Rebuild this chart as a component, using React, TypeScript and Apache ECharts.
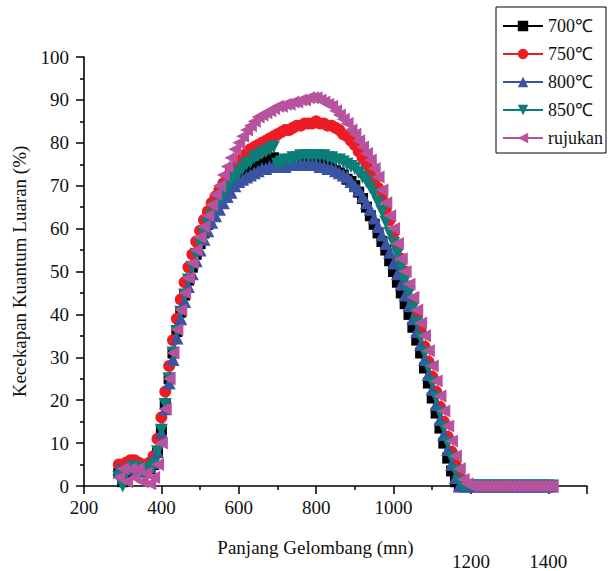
import React, { useEffect, useRef } from "react";
import * as echarts from "echarts";

const wavelengths = [
  290, 300, 310, 320, 330, 340, 350, 360, 370, 380, 390,
  400, 410, 420, 430, 440, 450, 460, 470, 480, 490,
  500, 510, 520, 530, 540, 550, 560, 570, 580, 590,
  600, 610, 620, 630, 640, 650, 660, 670, 680, 690,
  700, 710, 720, 730, 740, 750, 760, 770, 780, 790,
  800, 810, 820, 830, 840, 850, 860, 870, 880, 890,
  900, 910, 920, 930, 940, 950, 960, 970, 980, 990,
  1000, 1010, 1020, 1030, 1040, 1050, 1060, 1070, 1080, 1090,
  1100, 1110, 1120, 1130, 1140, 1150, 1160, 1170, 1180, 1190,
  1200, 1210, 1220, 1230, 1240, 1250, 1260, 1270, 1280, 1290,
  1300, 1310, 1320, 1330, 1340, 1350, 1360, 1370, 1380, 1390,
  1400, 1410,
];

const s700 = [
  3, 1, 3, 4, 4, 3.5, 3.5, 3.5, 4, 5, 8,
  13, 19, 25, 31, 36, 40.5, 44.5, 48, 51, 54,
  56.5, 59, 61, 63, 65, 66.5, 68, 69.5, 70.5, 71,
  71.5, 72.5, 73, 73.5, 74, 74.5, 75, 75.5, 76, 76.5,
  75, 75, 75, 75, 75, 75, 75.5, 75.5, 75.5, 75.5,
  75.5, 75, 75, 74.5, 74, 73.5, 73, 72.5, 71.5, 71,
  70, 68.5, 67, 65, 63, 61, 59, 57, 55, 52.5,
  50, 47.5, 45, 42.5, 40, 37, 34, 31, 27.5, 24,
  20.5, 17, 13.5, 10, 6.5, 3.5, 1, 0, 0, 0,
  0, 0, 0, 0, 0, 0, 0, 0, 0, 0,
  0, 0, 0, 0, 0, 0, 0, 0, 0, 0,
  0, 0,
];

const s750 = [
  5, 5, 5.5, 6, 6, 5.5, 5, 5, 5.5, 7, 11,
  16, 22, 28, 34, 39, 43.5, 47.5, 51, 54, 57,
  59.5, 62, 64, 66, 67.5, 69, 70.5, 72, 73.5, 74.5,
  75.5, 76.5, 77.5, 78.5, 79, 79.5, 80, 80.5, 81, 81.5,
  82, 82.5, 83, 83, 83.5, 84, 84, 84.5, 84.5, 84.5,
  85, 84.5, 84.5, 84, 84, 83.5, 83, 82, 81.5, 80.5,
  79.5, 78, 76.5, 75, 73.5, 71.5, 69.5, 67, 64.5, 62,
  59, 56, 53, 50, 46.5, 43, 39.5, 36, 32.5, 29,
  25.5, 22, 18.5, 15, 11.5, 8, 5, 2, 0, 0,
  0, 0, 0, 0, 0, 0, 0, 0, 0, 0,
  0, 0, 0, 0, 0, 0, 0, 0, 0, 0,
  0, 0,
];

const s800 = [
  4, 3, 4, 4.5, 4, 3.5, 3.5, 4, 4.5, 5.5, 8,
  12.5, 18, 24, 29.5, 34.5, 39, 43, 46.5, 49.5, 52.5,
  55, 57.5, 59.5, 61.5, 63, 64.5, 66, 67.5, 68.5, 70,
  71, 71.5, 72, 72.5, 73, 73.5, 74, 74, 74.5, 74.5,
  74.5, 74.5, 74.5, 75, 75, 75, 75, 75, 75, 75,
  75, 74.5, 74.5, 74, 74, 73.5, 73, 72.5, 72, 71,
  70, 69, 67.5, 66, 64.5, 62.5, 60.5, 58.5, 56.5, 54.5,
  52, 49.5, 47, 44.5, 42, 39, 36, 33, 29.5, 26,
  22.5, 19, 15.5, 12, 8.5, 5, 2, 0, 0, 0,
  0, 0, 0, 0, 0, 0, 0, 0, 0, 0,
  0, 0, 0, 0, 0, 0, 0, 0, 0, 0,
  0, 0,
];

const s850 = [
  2, 0, 3, 4, 4.5, 4, 3.5, 3.5, 4, 5, 8,
  13, 19, 25, 31, 36, 40.5, 44.5, 48, 51, 54,
  56.5, 59, 61, 63, 65, 66.5, 68, 69.5, 71, 72,
  73, 74, 75, 75.5, 76.5, 77, 77.5, 78, 78.5, 79,
  75, 75.5, 76, 76, 76.5, 76.5, 77, 77, 77, 77,
  77, 77, 77, 76.5, 76.5, 76, 76, 75.5, 75, 74.5,
  74, 73, 72, 71, 69.5, 68, 66, 64, 61.5, 59,
  56.5, 54, 51, 48, 45, 41.5, 38, 34.5, 31, 27.5,
  24, 20.5, 17, 13.5, 10, 6.5, 3.5, 1, 0, 0,
  0, 0, 0, 0, 0, 0, 0, 0, 0, 0,
  0, 0, 0, 0, 0, 0, 0, 0, 0, 0,
  0, 0,
];

const sRef = [
  2, 4, 1, 4, 2, 4, 1, 3, 0.5, 2, 5,
  10, 18, 25, 31, 36.5, 41, 45, 48.5, 52, 55,
  58, 60.5, 63, 65.5, 68, 70, 72.5, 74.5, 76.5, 78.5,
  80, 81.5, 83, 84, 85, 86, 86.5, 87, 87.5, 88,
  88.5, 88.5, 89, 89, 89.5, 89.5, 90, 90, 90.5, 90.5,
  90.5, 90, 89.5, 89, 88.5, 87.5, 86.5, 85.5, 84.5, 83,
  82, 80.5, 79, 77.5, 76, 74, 72, 69, 66, 63,
  60, 56.5, 53, 50, 47, 44, 41, 38, 35, 31.5,
  28, 24.5, 21, 17.5, 14, 10.5, 7, 4, 1.5, 0.5,
  0, 0, 0, 0, 0, 0, 0, 0, 0, 0,
  0, 0, 0, 0, 0, 0, 0, 0, 0, 0,
  0, 0,
];

const seriesNames = ["700℃", "750℃", "800℃", "850℃", "rujukan"];
const seriesColors = ["#000000", "#ED1C24", "#3A53A4", "#0B7E7A", "#B8529F"];
const seriesSymbols = ["rect", "circle", "triangle", "triangle", "triangle"];
const seriesRotations = [0, 0, 0, 180, 90];
const seriesSizes = [11, 12, 13, 13, 13];
const seriesValues = [s700, s750, s800, s850, sRef];

const xTickLabelsLow = [1200, 1400];

const FONT = "Liberation Serif";

export default function App() {
  const ref = useRef<HTMLDivElement>(null);
  useEffect(() => {
    if (!ref.current) return;
    const chart = echarts.init(ref.current, undefined, { renderer: "svg" });
    const series = seriesNames.map((name, i) => ({
      name,
      type: "line",
      data: wavelengths.map((w, j) => [w, seriesValues[i][j]]),
      symbol: seriesSymbols[i],
      symbolSize: seriesSizes[i],
      symbolRotate: seriesRotations[i],
      showAllSymbol: true,
      clip: false,
      itemStyle: { color: seriesColors[i] },
      lineStyle: { color: seriesColors[i], width: 1 },
    }));
    chart.setOption({
      animation: false,
      backgroundColor: "#ffffff",
      textStyle: { fontFamily: FONT },
      grid: {
        left: 84,
        right: 24,
        top: 57,
        bottom: 85,
        containLabel: false,
        outerBoundsMode: "none",
      },
      legend: {
        orient: "vertical",
        left: 496,
        top: 7,
        padding: [10, 3, 6, 6],
        borderColor: "#000",
        borderWidth: 1,
        borderRadius: 0,
        itemWidth: 40,
        itemHeight: 13,
        itemGap: 10,
        textStyle: { fontFamily: FONT, fontSize: 18, color: "#111" },
        data: seriesNames,
      },
      xAxis: {
        type: "value",
        min: 200,
        max: 1500,
        interval: 200,
        name: "Panjang Gelombang (mn)",
        nameLocation: "middle",
        nameGap: 52,
        nameMoveOverlap: false,
        nameTextStyle: { fontFamily: FONT, fontSize: 19, color: "#111", padding: [0, 40, 0, 0] },
        axisLine: { lineStyle: { color: "#000", width: 1.6 } },
        axisTick: { show: true, length: 8, lineStyle: { color: "#000", width: 1.5 } },
        minorTick: { show: true, splitNumber: 2, length: 4, lineStyle: { color: "#000", width: 1.5 } },
        splitLine: { show: false },
        axisLabel: {
          margin: 12,
          fontFamily: FONT,
          fontSize: 19,
          color: "#111",
          formatter: (v: number) =>
            xTickLabelsLow.includes(v) ? `{low|${v}}` : v > 1400 ? "" : `${v}`,
          rich: {
            low: { fontFamily: FONT, fontSize: 19, color: "#111", padding: [54, 0, 0, 0] },
          },
        },
      },
      yAxis: {
        type: "value",
        min: 0,
        max: 100,
        interval: 10,
        name: "Kecekapan Kuantum Luaran (%)",
        nameLocation: "middle",
        nameGap: 55,
        nameRotate: 90,
        nameMoveOverlap: false,
        nameTextStyle: { fontFamily: FONT, fontSize: 19, color: "#111" },
        axisLine: { show: true, lineStyle: { color: "#000", width: 1.6 } },
        axisTick: { show: true, length: 8, lineStyle: { color: "#000", width: 1.5 } },
        minorTick: { show: true, splitNumber: 2, length: 4, lineStyle: { color: "#000", width: 1.5 } },
        splitLine: { show: false },
        axisLabel: { margin: 15, fontFamily: FONT, fontSize: 19, color: "#111" },
      },
      series,
    });
    return () => chart.dispose();
  }, []);
  return <div ref={ref} style={{ width: 611, height: 571, position: "fixed", left: 0, top: 0 }} />;
}
